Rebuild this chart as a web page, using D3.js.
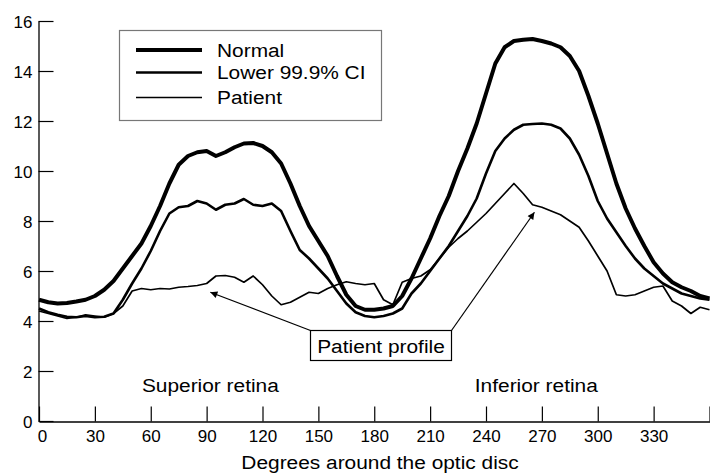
<!DOCTYPE html>
<html><head><meta charset="utf-8">
<script src="https://cdn.jsdelivr.net/npm/d3@7"></script>
<style>
html,body{margin:0;padding:0;background:#fff;}
svg{display:block;font-family:"Liberation Sans",Arial,Helvetica,sans-serif;}
</style></head>
<body>
<svg id="chart" width="710" height="473"></svg>
<script>
// ---- data ----
const degrees = d3.range(0, 361, 5);
const normal = [4.85,4.75,4.7,4.72,4.78,4.85,5.0,5.25,5.6,6.1,6.6,7.1,7.8,8.6,9.5,10.25,10.6,10.75,10.8,10.6,10.75,10.95,11.1,11.12,11.0,10.75,10.3,9.5,8.6,7.8,7.2,6.6,5.8,5.05,4.6,4.45,4.45,4.5,4.6,5.0,5.7,6.5,7.3,8.2,9.0,10.0,10.9,11.9,13.1,14.3,14.95,15.2,15.25,15.28,15.2,15.1,14.95,14.6,14.0,13.0,11.9,10.7,9.5,8.5,7.7,7.0,6.35,5.9,5.55,5.35,5.2,5.0,4.9];
const lowerCI = [4.5,4.35,4.25,4.17,4.15,4.2,4.15,4.17,4.3,4.85,5.5,6.1,6.8,7.6,8.3,8.55,8.6,8.8,8.7,8.45,8.65,8.7,8.88,8.65,8.6,8.7,8.4,7.6,6.84,6.5,6.1,5.7,5.2,4.7,4.35,4.2,4.15,4.2,4.3,4.5,5.1,5.5,6.0,6.5,7.0,7.6,8.2,8.9,9.9,10.8,11.3,11.65,11.85,11.88,11.9,11.85,11.7,11.3,10.65,9.8,8.8,8.1,7.55,7.0,6.5,6.1,5.8,5.5,5.3,5.1,5.0,4.9,4.85];
const patient = [4.4,4.3,4.2,4.1,4.15,4.25,4.2,4.15,4.3,4.6,5.2,5.3,5.25,5.3,5.28,5.35,5.38,5.42,5.5,5.8,5.82,5.75,5.55,5.8,5.45,5.0,4.65,4.75,4.95,5.15,5.1,5.3,5.45,5.57,5.5,5.45,5.5,4.85,4.65,5.55,5.7,5.8,6.05,6.5,6.95,7.3,7.6,7.95,8.3,8.7,9.1,9.5,9.1,8.65,8.55,8.4,8.25,8.0,7.75,7.2,6.6,6.0,5.05,5.0,5.05,5.2,5.35,5.4,4.8,4.6,4.3,4.55,4.45];
const xTicks = d3.range(0, 361, 30);
const yTicks = d3.range(0, 17, 2);
const seriesNames = ["Normal", "Lower 99.9% CI", "Patient"];
const regionLabels = [{text:"Superior retina", deg:92}, {text:"Inferior retina", deg:267}];
const annotation = {text:"Patient profile", targets:[{deg:92, v:5.15}, {deg:266, v:8.35}]};

// ---- layout ----
const svg = d3.select("#chart");
const x = d3.scaleLinear().domain([0, 360]).range([39, 709.5]);
const y = d3.scaleLinear().domain([0, 16]).range([421, 21]);
const SX = 1.16;

// axes
const yAxis = d3.axisLeft(y).tickValues(yTicks).tickSizeInner(-15).tickSizeOuter(0).tickPadding(6);
const gy = svg.append("g").attr("transform", "translate(38.5,0)").call(yAxis);
gy.selectAll("text").attr("font-size", 17).attr("fill", "#000").attr("font-family", "Liberation Sans, Arial, sans-serif").attr("dy", "0.38em");
gy.select(".domain").attr("stroke", "#000").attr("stroke-width", 1.3);
gy.selectAll(".tick line").attr("stroke", "#000").attr("stroke-width", 1.2);

const xAxis = d3.axisBottom(x).tickValues(xTicks).tickSizeInner(-15).tickSizeOuter(0).tickPadding(8)
  .tickFormat(d => d === 360 ? "" : d);
const gx = svg.append("g").attr("transform", "translate(0,421.5)").call(xAxis);
gx.selectAll("text").attr("font-size", 17).attr("fill", "#000").attr("font-family", "Liberation Sans, Arial, sans-serif");
gx.selectAll(".tick").filter(d => d === 0).select("text").attr("dx", 3);
gx.select(".domain").attr("stroke", "#000").attr("stroke-width", 1.3);
gx.selectAll(".tick line").attr("stroke", "#000").attr("stroke-width", 1.2);

// helper for stretched text
function stretchedText(txt, px, py, anchor) {
  return svg.append("text")
    .attr("transform", `translate(${px},${py}) scale(${SX},1)`)
    .attr("text-anchor", anchor || "start")
    .attr("font-size", 18).attr("fill", "#000").text(txt);
}

// axis title
stretchedText("Degrees around the optic disc", 380, 469, "middle");

// region labels
regionLabels.forEach(r => stretchedText(r.text, x(r.deg), 392, "middle"));

// lines
const line = d3.line().x((d, i) => x(degrees[i])).y(d => y(d));
const widths = [4, 2.6, 1.7];
[normal, lowerCI, patient].forEach((s, i) => {
  svg.append("path").datum(s).attr("d", line)
    .attr("fill", "none").attr("stroke", "#000")
    .attr("stroke-width", widths[i]).attr("stroke-linejoin", "round");
});

// legend
svg.append("rect").attr("x", 119.5).attr("y", 30.5).attr("width", 262).attr("height", 90)
  .attr("fill", "#fff").attr("stroke", "#777").attr("stroke-width", 1.2);
const rows = [50, 72.5, 97.5];
seriesNames.forEach((n, i) => {
  svg.append("line").attr("x1", 136).attr("x2", 202).attr("y1", rows[i]).attr("y2", rows[i])
    .attr("stroke", "#000").attr("stroke-width", widths[i]);
  stretchedText(n, 217, rows[i] + 6.5, "start");
});

// annotation
const defs = svg.append("defs");
defs.append("marker").attr("id", "arr").attr("viewBox", "0 0 10 10").attr("refX", 10).attr("refY", 5)
  .attr("markerWidth", 11).attr("markerHeight", 7).attr("markerUnits", "userSpaceOnUse").attr("orient", "auto")
  .append("path").attr("d", "M0,0 L10,5 L0,10 z").attr("fill", "#000");
const box = {x: 310.5, y: 330.5, w: 141, h: 30};
const starts = [[box.x, box.y], [box.x + box.w, box.y]];
annotation.targets.forEach((t, i) => {
  svg.append("line").attr("x1", starts[i][0]).attr("y1", starts[i][1])
    .attr("x2", x(t.deg)).attr("y2", y(t.v))
    .attr("stroke", "#000").attr("stroke-width", 1.2).attr("marker-end", "url(#arr)");
});
svg.append("rect").attr("x", box.x).attr("y", box.y).attr("width", box.w).attr("height", box.h)
  .attr("fill", "#fff").attr("stroke", "#000").attr("stroke-width", 1.2);
stretchedText(annotation.text, box.x + box.w / 2, box.y + 22, "middle");
</script>
</body></html>
